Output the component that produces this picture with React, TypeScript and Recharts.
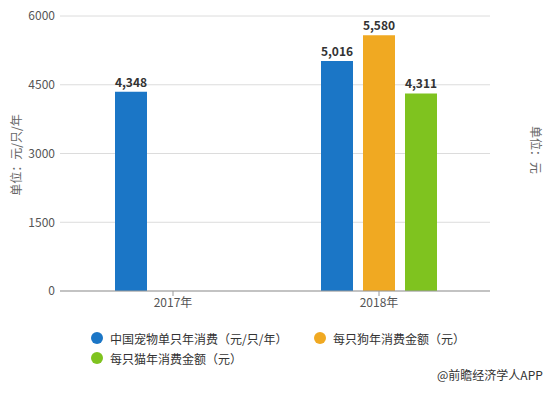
import React from 'react';
import { BarChart, Bar, XAxis, YAxis, CartesianGrid, LabelList } from 'recharts';

const categories = ['2017年', '2018年'];
const petPerYear = [4348, 5016];
const dogPerYear: (number | null)[] = [null, 5580];
const catPerYear: (number | null)[] = [null, 4311];
const yTicks = [0, 1500, 3000, 4500, 6000];

const seriesNames = ['中国宠物单只年消费（元/只/年）', '每只狗年消费金额（元）', '每只猫年消费金额（元）'];
const colors = ['#1b76c6', '#f0a922', '#7fc31f'];

const data = categories.map((c, i) => ({
  name: c,
  pet: petPerYear[i],
  dog: dogPerYear[i],
  cat: catPerYear[i],
}));

const FONT = '"Microsoft YaHei", "Noto Sans CJK SC", "Noto Sans", sans-serif';

const fmt = (v: any) => (v == null || v === '' ? '' : Number(v).toLocaleString('en-US'));

const labelStyle = { fontSize: 12, fontWeight: 'bold' as const, fill: '#333', fontFamily: FONT };

export default function App() {
  const keys = ['pet', 'dog', 'cat'];
  return (
    <div style={{ position: 'absolute', left: 0, top: 0, width: 553, height: 395, background: '#fff', fontFamily: FONT }}>
      <BarChart
        width={553}
        height={395}
        data={data}
        margin={{ top: 16, right: 0, left: 0, bottom: 74 }}
        barSize={32}
        barGap={10}
      >
        <CartesianGrid vertical={false} stroke="#dcdcdc" yAxisId="left" />
        <XAxis
          dataKey="name"
          height={30}
          padding={{ left: 10, right: 8 }}
          axisLine={{ stroke: '#999' }}
          tickLine={{ stroke: '#999' }}
          tickSize={5}
          tick={{ fontSize: 12, fill: '#555', fontFamily: FONT }}
        />
        <YAxis
          yAxisId="left"
          width={60}
          domain={[0, 6000]}
          ticks={yTicks}
          axisLine={false}
          tickLine={false}
          tickSize={3}
          tickMargin={2}
          tick={{ fontSize: 12, fill: '#555', fontFamily: FONT }}
        />
        <YAxis
          yAxisId="right"
          orientation="right"
          width={63}
          domain={[0, 6000]}
          ticks={yTicks}
          axisLine={false}
          tickLine={false}
          tick={{ fontSize: 12, fill: '#555', fontFamily: FONT }}
        />
        {keys.map((k, i) => (
          <Bar key={k} dataKey={k} yAxisId="left" fill={colors[i]} isAnimationActive={false}>
            <LabelList dataKey={k} position="top" formatter={fmt} style={labelStyle} />
          </Bar>
        ))}
      </BarChart>

      <div style={{ position: 'absolute', left: 15, top: 155, transform: 'translate(-50%, -50%) rotate(-90deg)', whiteSpace: 'nowrap', fontSize: 12, color: '#666' }}>
        单位：元/只/年
      </div>
      <div style={{ position: 'absolute', left: 536, top: 150, transform: 'translate(-50%, -50%) rotate(90deg)', whiteSpace: 'nowrap', fontSize: 12, color: '#666' }}>
        单位：元
      </div>

      {[
        { x: 91, y: 338, i: 0 },
        { x: 314, y: 338, i: 1 },
        { x: 91, y: 358, i: 2 },
      ].map(({ x, y, i }) => (
        <div key={i} style={{ position: 'absolute', left: x, top: y - 9, height: 18, display: 'flex', alignItems: 'center', whiteSpace: 'nowrap', fontSize: 12, color: '#333' }}>
          <span style={{ display: 'inline-block', width: 12, height: 12, borderRadius: 6, background: colors[i], marginRight: 7 }} />
          <span>{seriesNames[i]}</span>
        </div>
      ))}

      <div style={{ position: 'absolute', left: 437, top: 366, fontSize: 12, color: '#333', whiteSpace: 'nowrap' }}>
        @前瞻经济学人APP
      </div>
    </div>
  );
}
